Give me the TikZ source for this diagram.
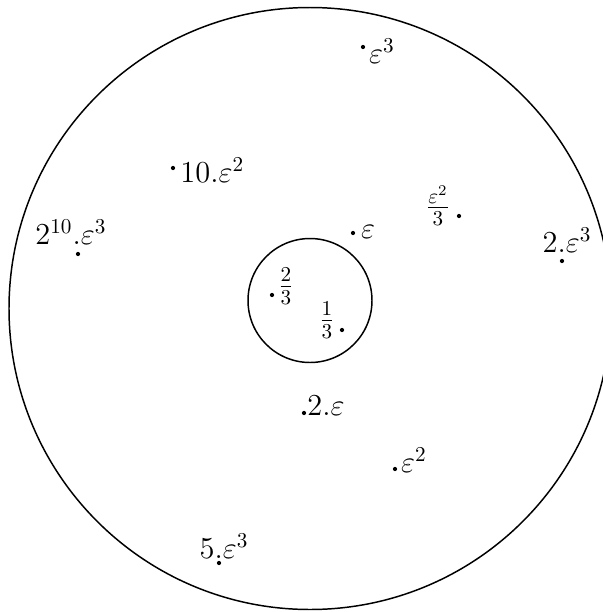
\documentclass[tikz,border=0pt]{standalone}
\begin{document}
\begin{tikzpicture}[x=0.4726pt,y=-0.4726pt,
  dot/.style={circle,fill=black,inner sep=0pt,minimum size=2pt},
  lbl/.style={inner sep=0pt,font=\Large},
  ring/.style={draw,circle,inner sep=0pt,line width=0.7pt}]
\useasboundingbox (0,0) rectangle (603,612);
\node[ring,minimum size=284.5pt] (outer) at (310,308.5) {};
\node[ring,minimum size=58.6pt] (inner) at (310,300.5) {};
% points
\node[dot] (p1) at (363,47) {};
\node[lbl] (l1) at (382,51) {$\varepsilon^3$};
\node[dot] (p2) at (173,168) {};
\node[lbl,anchor=west] (l2) at (180,170) {$10.\varepsilon^2$};
\node[dot] (p3) at (78,254) {};
\node[lbl] (l3) at (71,232) {$2^{10}.\varepsilon^3$};
\node[dot] (p4) at (459,216) {};
\node[lbl] (l4) at (438,206) {$\frac{\varepsilon^2}{3}$};
\node[dot] (p5) at (562,261) {};
\node[lbl] (l5) at (567,240) {$2.\varepsilon^3$};
\node[dot] (p6) at (353,233) {};
\node[lbl] (l6) at (368,232) {$\varepsilon$};
\node[dot] (p7) at (272,295) {};
\node[lbl] (l7) at (286,286) {$\frac{2}{3}$};
\node[dot] (p8) at (342,330) {};
\node[lbl] (l8) at (327,320) {$\frac{1}{3}$};
\node[dot] (p9) at (304,413) {};
\node[lbl] (l9) at (326,406) {$2.\varepsilon$};
\node[dot] (p10) at (395,469) {};
\node[lbl] (l10) at (414,460) {$\varepsilon^2$};
\node[dot] (p11) at (219,563) {};
\node[lbl] (l11) at (224,546) {$5.\varepsilon^3$};
\end{tikzpicture}
\end{document}
